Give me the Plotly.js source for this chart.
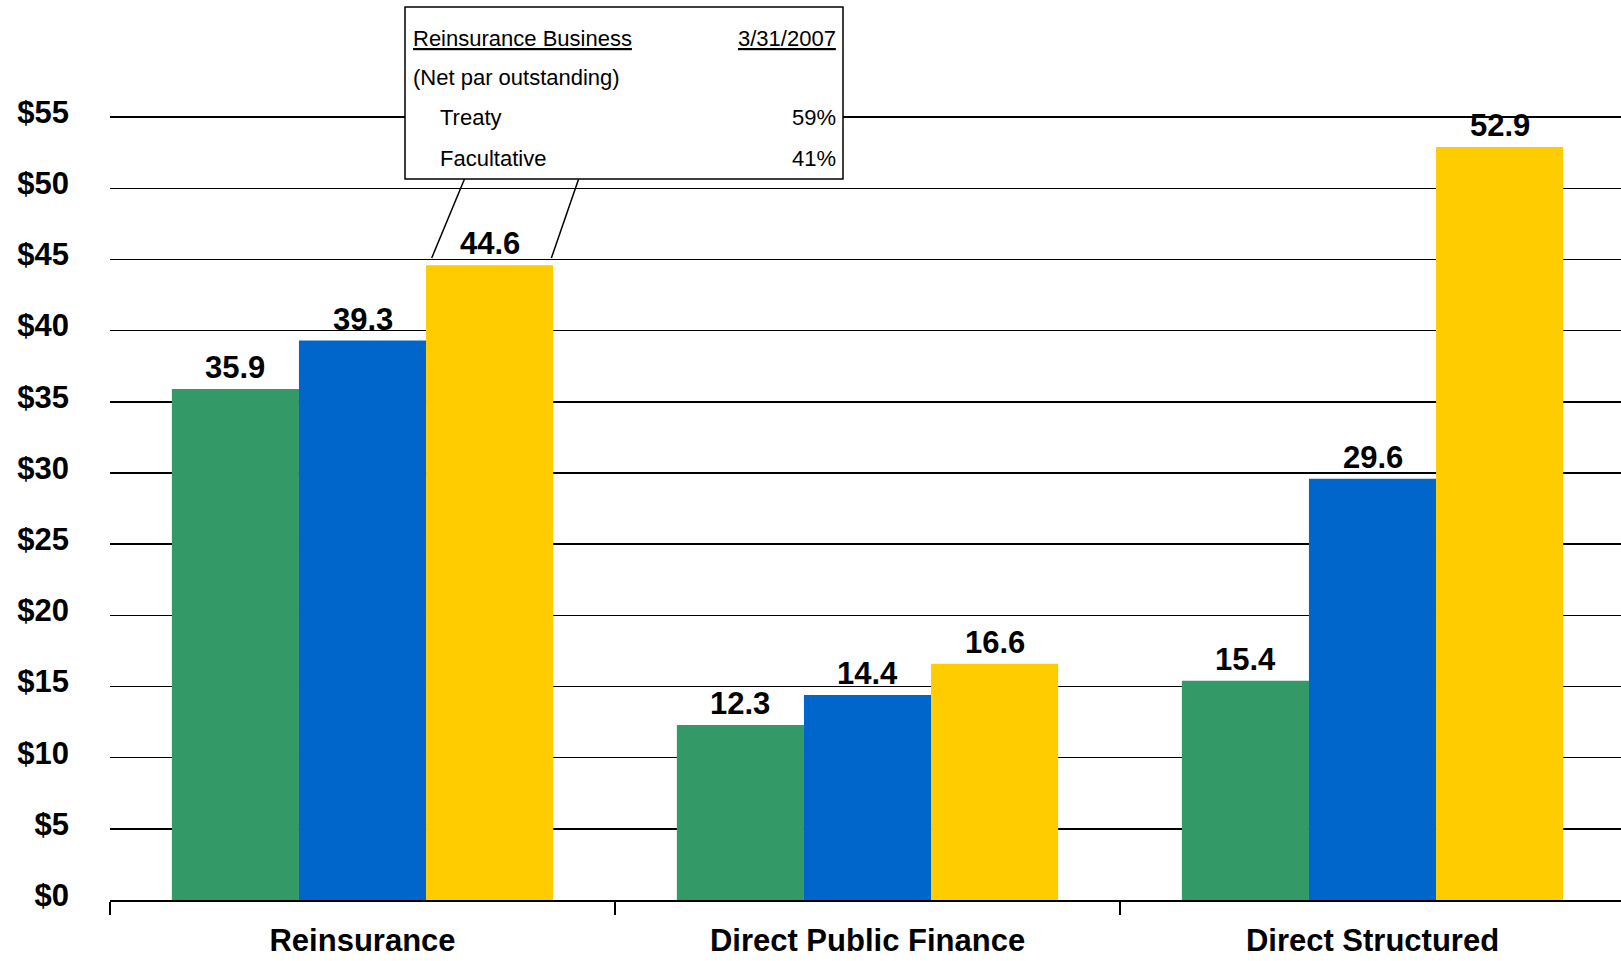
<!DOCTYPE html>
<html>
<head>
<meta charset="utf-8">
<script src="https://cdn.plot.ly/plotly-3.0.1.min.js"></script>
<style>
  html, body { margin: 0; padding: 0; overflow: hidden; background: #fff; }
  #chart { width: 1630px; height: 961px; }
</style>
</head>
<body>
<div id="chart"></div>
<script>
// ---- data ----
const categories = ['Reinsurance', 'Direct Public Finance', 'Direct Structured'];
const seriesNames = ['Period 1', 'Period 2', 'Period 3'];
const seriesA = [35.9, 12.3, 15.4];
const seriesB = [39.3, 14.4, 29.6];
const seriesC = [44.6, 16.6, 52.9];
const seriesColors = ['#339966', '#0066CC', '#FFCC00'];
const boxTitle = 'Reinsurance Business';
const boxDate = '3/31/2007';
const boxSubtitle = '(Net par outstanding)';
const boxRowLabels = ['Treaty', 'Facultative'];
const boxRowValues = ['59%', '41%'];

// ---- layout constants ----
const W = 1630, H = 961;
const yMax = 55.5;
const pxPerUnit = 783 / 55;
const M = { l: 110, r: 5, t: Math.round(900 - yMax * pxPerUnit), b: 61 };
const plotW = W - M.l - M.r, plotH = H - M.t - M.b;
const px = x => (x - M.l) / plotW;      // pixel -> paper x
const py = y => (H - M.b - y) / plotH;  // pixel -> paper y
const pyData = y => (H - M.b - y) / plotH * yMax; // pixel -> data y
const bargap = 0.245;

const boldFont = { family: 'Liberation Sans, Arial, sans-serif', size: 31, color: '#000', weight: 700 };
const boxFont = { family: 'Liberation Sans, Arial, sans-serif', size: 22, color: '#000' };

const allSeries = [seriesA, seriesB, seriesC];
const traces = allSeries.map((vals, i) => ({
  type: 'bar',
  x: categories,
  y: vals,
  name: seriesNames[i],
  marker: { color: seriesColors[i], line: { width: 0 } },
  hoverinfo: 'x+y'
}));

const annotations = [];
allSeries.forEach((vals, s) => {
  vals.forEach((v, c) => {
    annotations.push({
      xref: 'x', yref: 'y',
      x: c + (s - 1) * (1 - bargap) / 3,
      y: v,
      text: v.toFixed(1),
      showarrow: false,
      xanchor: 'center', yanchor: 'bottom',
      yshift: 2,
      font: boldFont
    });
  });
});

// callout box text
const boxL = 405, boxR = 843, boxT = 7, boxB = 179;
const rowY = [39, 77, 117, 158];
function boxText(text, x, y, anchor) {
  annotations.push({
    xref: 'paper', yref: 'paper', x: px(x), y: py(y),
    text: text, showarrow: false, xanchor: anchor, yanchor: 'middle',
    font: boxFont
  });
}
boxText('<u>' + boxTitle + '</u>', 411, rowY[0], 'left');
boxText('<u>' + boxDate + '</u>', 838, rowY[0], 'right');
boxText(boxSubtitle, 411, rowY[1], 'left');
boxRowLabels.forEach((lab, i) => {
  boxText(lab, 438, rowY[2 + i], 'left');
  boxText(boxRowValues[i], 838, rowY[2 + i], 'right');
});

const shapes = [
  { type: 'rect', xref: 'paper', yref: 'paper', x0: px(boxL), x1: px(boxR), y0: py(boxB), y1: py(boxT),
    fillcolor: '#fff', line: { color: '#000', width: 1.5 }, layer: 'above' },
  { type: 'line', xref: 'x', yref: 'y', x0: 0.202, y0: pyData(boxB), x1: 0.137, y1: seriesC[0] + 0.5,
    line: { color: '#000', width: 1.5 }, layer: 'above' },
  { type: 'line', xref: 'x', yref: 'y', x0: 0.428, y0: pyData(boxB), x1: 0.374, y1: seriesC[0] + 0.5,
    line: { color: '#000', width: 1.5 }, layer: 'above' }
];

const layout = {
  width: W, height: H,
  margin: M,
  paper_bgcolor: '#fff', plot_bgcolor: '#fff',
  showlegend: false,
  barmode: 'group',
  bargap: bargap,
  bargroupgap: 0,
  font: { family: 'Liberation Sans, Arial, sans-serif', color: '#000' },
  xaxis: {
    type: 'category',
    tickson: 'boundaries',
    ticks: 'outside', ticklen: 13, tickwidth: 1.5, tickcolor: '#000',
    showline: true, linecolor: '#000', linewidth: 2,
    showgrid: false, zeroline: false,
    tickfont: boldFont,
    ticklabelstandoff: 12
  },
  yaxis: {
    range: [0, yMax],
    tick0: 0, dtick: 5,
    tickprefix: '$',
    showgrid: true, gridcolor: '#000', gridwidth: 1.5,
    zeroline: false, showline: false, ticks: '',
    tickfont: boldFont,
    ticklabelstandoff: 40,
    ticklabelshift: -5
  },
  annotations: annotations,
  shapes: shapes
};

Plotly.newPlot('chart', traces, layout, { displayModeBar: false, staticPlot: true });
</script>
</body>
</html>
